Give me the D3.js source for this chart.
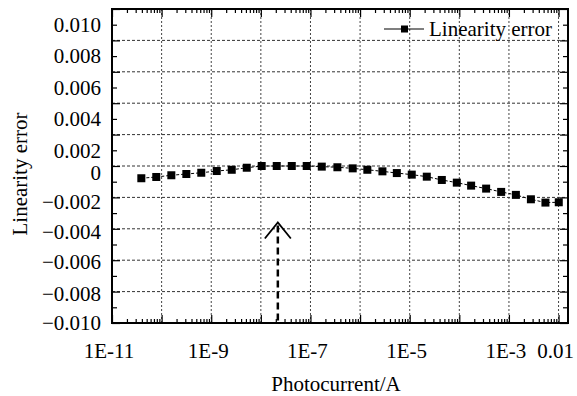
<!DOCTYPE html>
<html>
<head>
<script src="https://d3js.org/d3.v7.min.js"></script>
<style>
    body { margin:0; background:#fff; }
    svg { width:577px; height:396px; display:block; }
    text { font-family:"Liberation Serif","Times New Roman",serif; font-size:21px; fill:#000; }
</style>
</head>
<body>
<svg id="chart"></svg>
<script>
// data
const current = [3.9e-11, 7.8e-11, 1.57e-10, 3.15e-10, 6.3e-10, 1.29e-9, 2.59e-9, 5.2e-9, 1.04e-8, 2.09e-8,
                 4.2e-8, 8.4e-8, 1.69e-7, 3.49e-7, 7.1e-7, 1.4e-6, 2.82e-6, 5.5e-6, 1.1e-5, 2.21e-5,
                 4.44e-5, 8.9e-5, 1.73e-4, 3.47e-4, 6.97e-4, 1.38e-3, 2.77e-3, 5.44e-3, 1.01e-2];
const linError = [-0.00078, -0.00070, -0.00059, -0.00051, -0.00043, -0.00032, -0.00024, -0.00011, 0, 0,
                  0, 0, -0.00004, -0.00008, -0.00015, -0.00024, -0.00034, -0.00045, -0.00055, -0.00068,
                  -0.00089, -0.00106, -0.00125, -0.00144, -0.00165, -0.00184, -0.00212, -0.00233, -0.00231];

// tick labels and the values where they sit in the original figure
const yTickLabels = ['0.010','0.008','0.006','0.004','0.002','0',
                     '\u22120.002','\u22120.004','\u22120.006','\u22120.008','\u22120.010'];
const yLabelAt = [0.009, 0.007, 0.005, 0.003, 0.001, -0.0004, -0.0023, -0.0042, -0.0061, -0.0081, -0.010];
const xTickLabels = ['1E-11','1E-9','1E-7','1E-5','1E-3','0.01'];
const xLabelAt = [1e-11, 1e-9, 1e-7, 1e-5, 1e-3, 1e-2];
const arrowAt = 2.2e-8;

const svg = d3.select('#chart');
const width = 577, height = 396;
const margin = { top:9, bottom:73, left:112, right:9 };
const innerWidth = width - margin.left - margin.right;
const innerHeight = height - margin.top - margin.bottom;

const xScale = d3.scaleLog().domain([1e-11, 0.0155]).range([0, innerWidth]);
const yScale = d3.scaleLinear().domain([-0.010, 0.010]).range([innerHeight, 0]);

const data = current.map((c, i) => ({ x:c, y:linError[i] }));

const g = svg.append('g').attr('transform', `translate(${margin.left},${margin.top})`);

// grid
const decades = d3.range(-10, -1).map(e => Math.pow(10, e));
g.append('g').selectAll('line').data(decades).enter().append('line')
    .attr('x1', d => xScale(d)).attr('x2', d => xScale(d))
    .attr('y1', 0).attr('y2', innerHeight)
    .attr('stroke', '#444').attr('stroke-width', 1).attr('stroke-dasharray', '2,2');
const majorY = yScale.ticks(10);
g.append('g').selectAll('line').data(majorY.slice(1, -1)).enter().append('line')
    .attr('x1', 0).attr('x2', innerWidth)
    .attr('y1', d => yScale(d)).attr('y2', d => yScale(d))
    .attr('stroke', '#333').attr('stroke-width', 1).attr('stroke-dasharray', '3,2');

// ticks (inward) on all four sides
const minorY = d3.range(-9, 10, 2).map(d => d / 1000);
const minorX = [];
for (let e = -11; e <= -2; e++) {
    for (let m = 2; m <= 9; m++) {
        const v = m * Math.pow(10, e);
        if (v <= xScale.domain()[1]) minorX.push(v);
    }
}
const majorX = d3.range(-11, -1).map(e => Math.pow(10, e));

function tickAxis(axis, values, size, transform) {
    const a = g.append('g').attr('transform', transform)
        .call(axis.tickValues(values).tickSize(size).tickFormat(''));
    a.select('.domain').remove();
    a.selectAll('text').remove();
    a.selectAll('line').attr('stroke', '#000').attr('stroke-width', 1.2);
}
tickAxis(d3.axisLeft(yScale), majorY, -8, null);
tickAxis(d3.axisLeft(yScale), minorY, -5, null);
tickAxis(d3.axisRight(yScale), majorY, -8, `translate(${innerWidth},0)`);
tickAxis(d3.axisRight(yScale), minorY, -5, `translate(${innerWidth},0)`);
tickAxis(d3.axisBottom(xScale), majorX, -8, `translate(0,${innerHeight})`);
tickAxis(d3.axisBottom(xScale), minorX, -4, `translate(0,${innerHeight})`);
tickAxis(d3.axisTop(xScale), majorX, -8, null);
tickAxis(d3.axisTop(xScale), minorX, -4, null);

// frame
g.append('rect').attr('width', innerWidth).attr('height', innerHeight)
    .attr('fill', 'none').attr('stroke', '#000').attr('stroke-width', 2);

// tick labels
g.append('g').selectAll('text').data(yTickLabels).enter().append('text')
    .attr('x', -11).attr('y', (d, i) => yScale(yLabelAt[i]))
    .attr('dy', '0.35em').attr('text-anchor', 'end')
    .text(d => d);
g.append('g').selectAll('text').data(xTickLabels).enter().append('text')
    .attr('x', (d, i) => xScale(xLabelAt[i]) - 3).attr('y', innerHeight + 28)
    .attr('dy', '0.35em').attr('text-anchor', 'middle')
    .text(d => d);

// series
const line = d3.line().x(d => xScale(d.x)).y(d => yScale(d.y));
g.append('path').datum(data).attr('d', line)
    .attr('fill', 'none').attr('stroke', '#000').attr('stroke-width', 1).attr('stroke-dasharray', '3,2');
g.append('g').selectAll('rect').data(data).enter().append('rect')
    .attr('x', d => xScale(d.x) - 4).attr('y', d => yScale(d.y) - 4)
    .attr('width', 8).attr('height', 8).attr('fill', '#000');

// arrow
const ax = xScale(arrowAt), tipY = yScale(-0.0036);
g.append('line').attr('x1', ax).attr('x2', ax).attr('y1', tipY + 3).attr('y2', innerHeight)
    .attr('stroke', '#000').attr('stroke-width', 2.5).attr('stroke-dasharray', '7,4');
g.append('path').attr('d', `M${ax - 13},${tipY + 16}L${ax},${tipY}L${ax + 13},${tipY + 16}`)
    .attr('fill', 'none').attr('stroke', '#000').attr('stroke-width', 1.8);

// legend
const lg = g.append('g').attr('transform', `translate(${innerWidth - 184},20)`);
lg.append('line').attr('x1', 0).attr('x2', 40).attr('stroke', '#000').attr('stroke-width', 1.2);
lg.append('rect').attr('x', 17).attr('y', -3.5).attr('width', 7).attr('height', 7).attr('fill', '#000');
lg.append('text').attr('x', 45).attr('dy', '0.35em').text('Linearity error');

// axis titles
svg.append('text')
    .attr('transform', 'translate(20,174) rotate(-90)')
    .attr('text-anchor', 'middle').attr('dy', '0.35em')
    .text('Linearity error');
svg.append('text')
    .attr('x', 336).attr('y', 384).attr('dy', '0.35em')
    .attr('text-anchor', 'middle')
    .text('Photocurrent/A');
</script>
</body>
</html>
